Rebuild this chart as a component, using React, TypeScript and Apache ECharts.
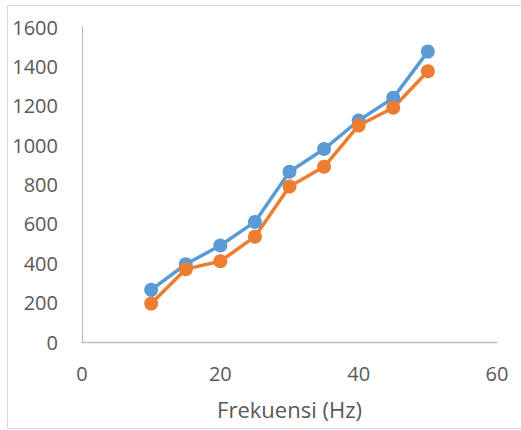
import React, { useEffect, useRef } from "react";
import * as echarts from "echarts";

const freq = [10, 15, 20, 25, 30, 35, 40, 45, 50];
const seriesBlue = [265, 395, 490, 610, 865, 980, 1125, 1240, 1475];
const seriesOrange = [195, 370, 410, 535, 790, 890, 1100, 1190, 1375];
const xAxisTitle = "Frekuensi (Hz)";

export default function App() {
  const ref = useRef<HTMLDivElement>(null);
  useEffect(() => {
    if (!ref.current) return;
    const chart = echarts.init(ref.current, null, { renderer: "svg" });
    const font = "'Open Sans', 'Liberation Sans', sans-serif";
    const toPairs = (ys: number[]) => freq.map((x, i) => [x, ys[i]]);
    chart.setOption({
      animation: false,
      backgroundColor: "#ffffff",
      grid: { left: 82, right: 24, top: 27, bottom: 88 },
      graphic: [
        {
          type: "rect",
          shape: { x: 7.5, y: 5.5, width: 600, height: 423 },
          style: { fill: "none", stroke: "#D9D9D9", lineWidth: 1 },
          silent: true,
        },
      ],
      xAxis: {
        type: "value",
        min: 0,
        max: 60,
        interval: 20,
        name: xAxisTitle,
        nameLocation: "middle",
        nameGap: 56,
        nameTextStyle: { fontFamily: font, fontSize: 22, color: "#595959" },
        axisLine: { show: true, lineStyle: { color: "#BFBFBF", width: 1.3 } },
        axisTick: { show: false },
        splitLine: { show: false },
        axisLabel: {
          fontFamily: font,
          fontSize: 20,
          color: "#595959",
          margin: 21,
          formatter: (v: number) => String(v),
        },
      },
      yAxis: {
        type: "value",
        min: 0,
        max: 1600,
        interval: 200,
        axisLine: { show: true, lineStyle: { color: "#BFBFBF", width: 1.3 } },
        axisTick: { show: false },
        splitLine: { show: false },
        axisLabel: {
          fontFamily: font,
          fontSize: 20,
          color: "#595959",
          margin: 24,
          formatter: (v: number) => String(v),
        },
      },
      series: [
        {
          type: "line",
          data: toPairs(seriesBlue),
          symbol: "circle",
          symbolSize: 14,
          lineStyle: { color: "#5B9BD5", width: 3.5 },
          itemStyle: { color: "#5B9BD5" },
        },
        {
          type: "line",
          data: toPairs(seriesOrange),
          symbol: "circle",
          symbolSize: 14,
          lineStyle: { color: "#ED7D31", width: 3.5 },
          itemStyle: { color: "#ED7D31" },
        },
      ],
    });
    return () => chart.dispose();
  }, []);
  return (
    <div
      ref={ref}
      style={{ position: "fixed", left: 0, top: 0, width: 521, height: 430 }}
    />
  );
}
